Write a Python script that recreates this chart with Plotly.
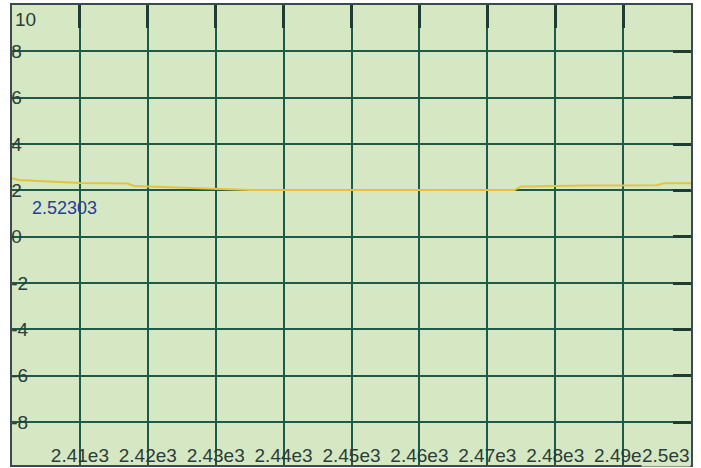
import plotly.graph_objects as go

# data
x_vals = [2400, 2401, 2410, 2417, 2418, 2425, 2435, 2474, 2475, 2485, 2495, 2496, 2500]
y_vals = [2.52303, 2.45, 2.32, 2.30, 2.19, 2.13, 2.02, 2.02, 2.17, 2.21, 2.22, 2.31, 2.31]
x_ticks = [2410, 2420, 2430, 2440, 2450, 2460, 2470, 2480, 2490]
x_tick_labels = ["2.41e3", "2.42e3", "2.43e3", "2.44e3", "2.45e3", "2.46e3", "2.47e3", "2.48e3", "2.49e3"]
y_ticks = [-8, -6, -4, -2, 0, 2, 4, 6, 8]
y_tick_labels = ["-8", "-6", "-4", "-2", "0", "2", "4", "6", "8"]
cursor_label = "2.52303"

X_RANGE = [2400, 2500]
Y_RANGE = [-9.85, 10]

BG = "#d6e7c4"
GRID = "#1f5a48"
FRAME = "#3b4a4e"
LBL = "#2a3d38"
FONT = "Liberation Sans, Arial, sans-serif"

fig = go.Figure()
fig.add_trace(go.Scatter(x=x_vals, y=y_vals, mode="lines",
                         line=dict(color="#e6c23c", width=2), showlegend=False,
                         hoverinfo="skip"))
# dummy trace for secondary axes (top ticks / right ticks)
fig.add_trace(go.Scatter(x=[None], y=[None], xaxis="x2", yaxis="y2", showlegend=False,
                         hoverinfo="skip"))

fig.update_layout(
    width=701, height=468,
    margin=dict(l=12, r=10, t=5, b=3),
    paper_bgcolor="white",
    plot_bgcolor=BG,
    font=dict(family=FONT, size=19, color=LBL),
    xaxis=dict(range=X_RANGE, tickvals=x_ticks, ticktext=x_tick_labels,
               ticklabelposition="inside", ticks="", showgrid=True,
               gridcolor=GRID, gridwidth=1.5, zeroline=False,
               showline=True, linecolor=FRAME, linewidth=2, mirror=True,
               tickfont=dict(family=FONT, size=19, color=LBL),
               ticklabeloverflow="allow"),
    yaxis=dict(range=Y_RANGE, tickvals=y_ticks, ticktext=y_tick_labels,
               ticklabelposition="inside", ticks="", showgrid=True,
               gridcolor=GRID, gridwidth=1.5, zeroline=False,
               showline=True, linecolor=FRAME, linewidth=2, mirror=True,
               tickfont=dict(family=FONT, size=19, color=LBL),
               ticklabeloverflow="allow"),
    xaxis2=dict(range=X_RANGE, overlaying="x", side="top", tickvals=x_ticks,
                ticks="inside", ticklen=23, tickwidth=3, tickcolor="#1e3b34",
                showticklabels=False, showgrid=False, zeroline=False, showline=False),
    yaxis2=dict(range=Y_RANGE, overlaying="y", side="right", tickvals=y_ticks,
                ticks="inside", ticklen=18, tickwidth=3, tickcolor="#1e3b34",
                showticklabels=False, showgrid=False, zeroline=False, showline=False),
    annotations=[
        dict(x=0, xref="paper", y=10, yref="y", text="10", showarrow=False,
             xanchor="left", yanchor="top", xshift=1, yshift=-2,
             font=dict(family=FONT, size=19, color=LBL)),
        dict(x=2500, xref="x", y=0, yref="paper", text="2.5e3", showarrow=False,
             xanchor="right", yanchor="bottom", bgcolor=BG, borderpad=0, yshift=-2,
             font=dict(family=FONT, size=19, color=LBL)),
        dict(x=2402.6, xref="x", y=1.25, yref="y", text=cursor_label, showarrow=False,
             xanchor="left", yanchor="middle",
             font=dict(family=FONT, size=18, color="#23409a")),
    ],
)

fig.write_html("out.html", config={"displayModeBar": False},
               post_script="document.body.style.margin='0';document.body.style.overflow='hidden';")
